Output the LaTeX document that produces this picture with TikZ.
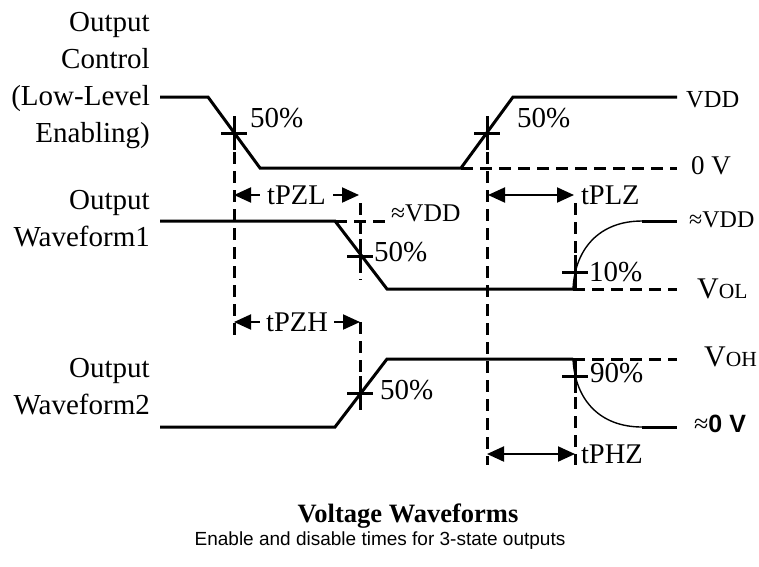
\documentclass[tikz,border=0pt]{standalone}
\usepackage{fontspec}
\setmainfont{Liberation Serif}
\setsansfont{Liberation Sans}
\usetikzlibrary{arrows.meta}

\begin{document}
\begin{tikzpicture}[x=1pt,y=-1pt,
    wave/.style={line width=3pt},
    decay/.style={line width=1.4pt},
    guide/.style={line width=3pt, dash pattern=on 12pt off 7pt},
    span/.style={line width=2pt, {Triangle[length=17pt,width=15pt]}-{Triangle[length=17pt,width=15pt]}},
    signame/.style={font=\fontsize{29}{37}\selectfont, align=right, anchor=east, inner sep=0pt},
    pct/.style={font=\fontsize{29}{30}\selectfont, anchor=west, inner sep=0pt},
    timing/.style={font=\fontsize{28.5}{30}\selectfont, inner sep=0pt},
    level/.style={anchor=west, inner sep=0pt}]
    \useasboundingbox (0,0) rectangle (759,566);
    % Signal names
    \node[signame] (ctrl) at (150,81) {Output\\Control\\(Low-Level\\Enabling)};
    \node[signame] (wf1) at (150,219) {Output\\Waveform1};
    \node[signame] (wf2) at (150,387) {Output\\Waveform2};
    % Crossing points
    \coordinate (x1) at (234,133);
    \coordinate (x2) at (487,133);
    \coordinate (x3) at (360,256);
    \coordinate (x4) at (575,272);
    \coordinate (x5) at (360,393);
    \coordinate (x6) at (575,376);
    % Waveforms
    \draw[wave] (160,97) -- (208,97) -- (260,168) -- (461,168) -- (513,97) -- (677,97);
    \draw[wave] (160,221) -- (335,221) -- (387,289) -- (573,289);
    \draw[wave] (160,427) -- (335,427) -- (387,359) -- (573,359);
    \draw[decay] (573,289) .. controls (575,248) and (600,221) .. (642,221);
    \draw[decay] (573,359) .. controls (575,400) and (600,427) .. (642,427);
    \draw[wave] (642,221) -- (677,221);
    \draw[wave] (642,427) -- (677,427);
    % Reference levels
    \draw[guide] (461,168) -- (677,168);
    \draw[guide] (335,221) -- (388,221);
    \draw[guide] (573,289) -- (677,289);
    \draw[guide] (573,359) -- (677,359);
    % Time markers
    \draw[guide] (x1) -- (234,335);
    \draw[guide] (x2) -- (487,465);
    \draw[guide] (360,203) -- (360,280);
    \draw[guide] (360,322) -- (360,410);
    \draw[guide] (575,203) -- (575,289);
    \draw[guide] (575,359) -- (575,465);
    \foreach \c in {x1,x2,x3,x4,x5,x6}
      \draw[wave] (\c) +(-13,0) -- +(13,0) +(0,-17) -- +(0,17);
    % Percent labels
    \node[pct] (p1) at (250,118) {50\%};
    \node[pct] (p2) at (517,118) {50\%};
    \node[pct] (p3) at (374,252) {50\%};
    \node[pct] (p4) at (589,272) {10\%};
    \node[pct] (p5) at (590,373) {90\%};
    \node[pct] (p6) at (380,390) {50\%};
    % Delay times
    \draw[span] (234,195) -- node[timing, fill=white, inner xsep=7pt, inner ysep=2pt] (tpzl) {tPZL} (359,195);
    \draw[span] (234,322) -- node[timing, fill=white, inner xsep=6pt, inner ysep=2pt] (tpzh) {tPZH} (360,322);
    \draw[span] (488,195) -- (574,195) node[timing, anchor=west, xshift=6pt] (tplz) {tPLZ};
    \draw[span] (487,454) -- (575,454) node[timing, anchor=west, xshift=5pt] (tphz) {tPHZ};
    % Level labels
    \node[level, font=\fontsize{24.5}{26}\selectfont] (vdd) at (686,100) {VDD};
    \node[level, font=\fontsize{27}{28}\selectfont] (zero) at (691,166) {0 V};
    \node[level, font=\fontsize{24}{26}\selectfont] (vdd1) at (689,220) {≈VDD};
    \node[level, font=\fontsize{25.5}{27}\selectfont] (vdd2) at (391,213) {≈VDD};
    \node[level] (vol) at (697,289) {\fontsize{30}{31}\selectfont V\fontsize{21.5}{22}\selectfont OL};
    \node[level] (voh) at (704,357) {\fontsize{30}{31}\selectfont V\fontsize{21.5}{22}\selectfont OH};
    \node[level] (zero2) at (694,424) {\fontsize{26}{27}\selectfont ≈\sffamily\bfseries\fontsize{25}{26}\selectfont 0 V};
    % Caption
    \node[font=\bfseries\fontsize{26.5}{28}\selectfont] (title) at (408,516) {Voltage Waveforms};
    \node[font=\sffamily\fontsize{19}{22}\selectfont] (subtitle) at (380,541) {Enable and disable times for 3-state outputs};
  \end{tikzpicture}
\end{document}
